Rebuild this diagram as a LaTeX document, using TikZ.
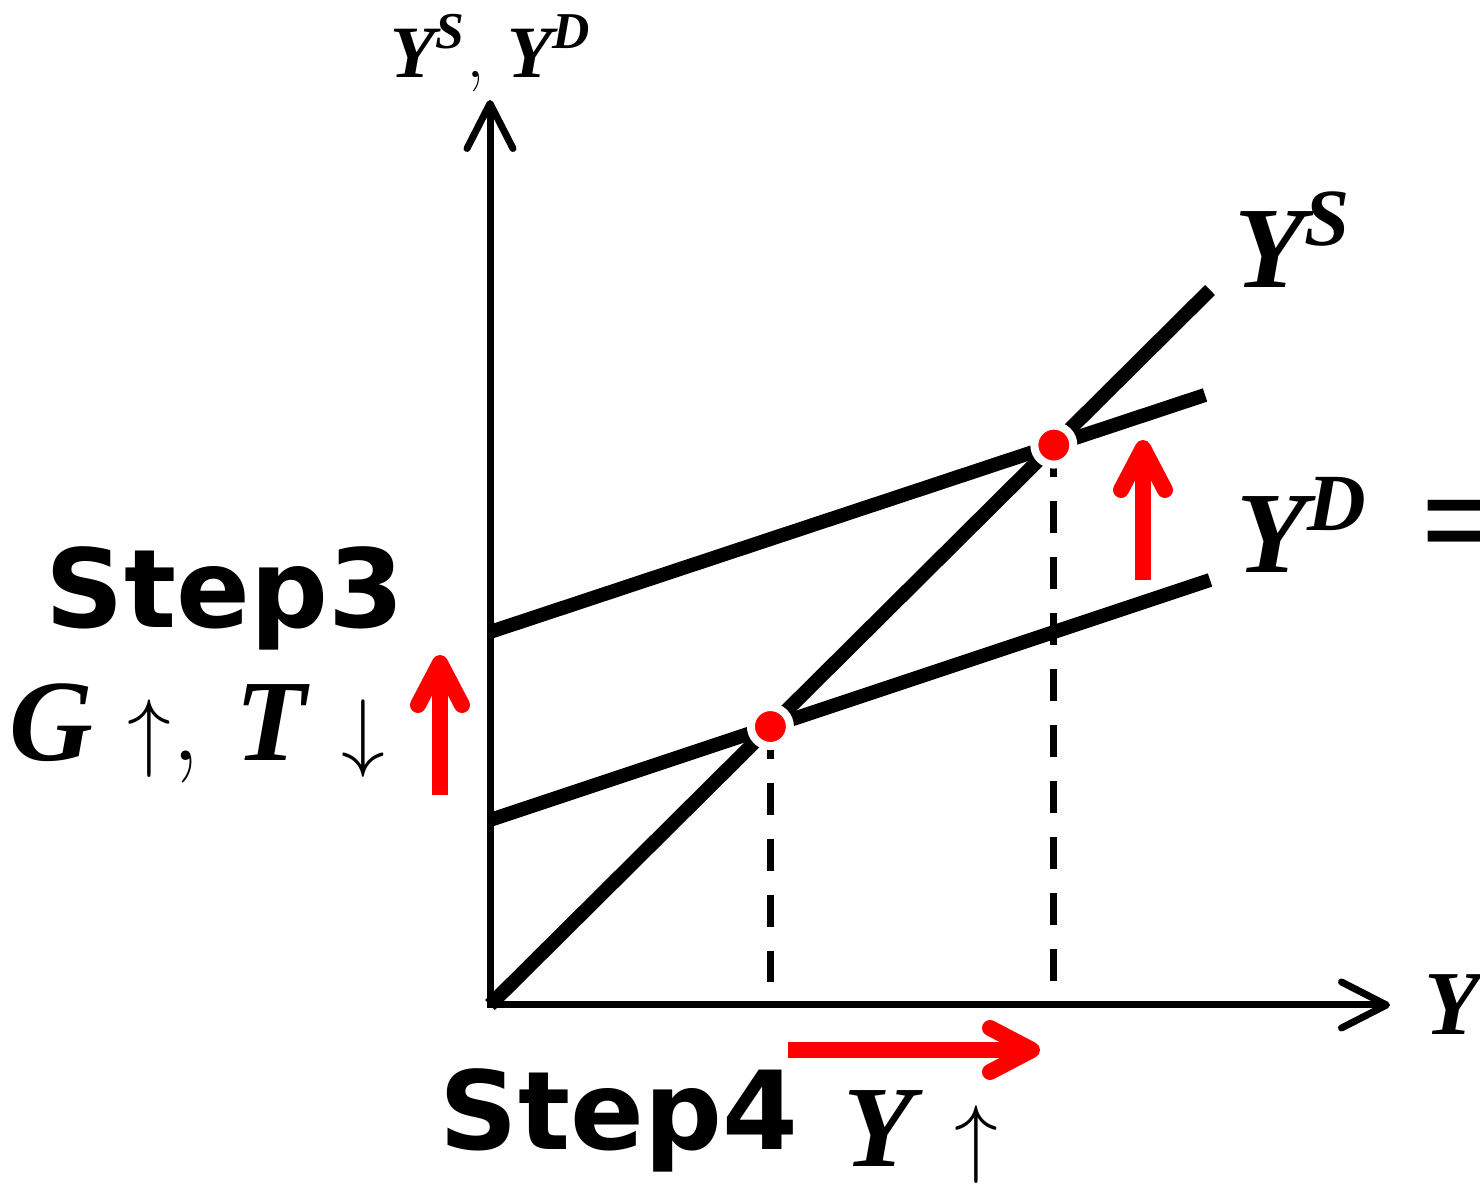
\documentclass[tikz,border=0pt]{standalone}
\usepackage{amsmath}
\usepackage{fontspec}
\setsansfont{DejaVu Sans}
\newfontfamily\eqfont{Liberation Serif}
\newcommand{\mv}[1]{{\eqfont\bfseries\itshape #1}}
\usepackage{xcolor}
\usetikzlibrary{arrows.meta,positioning,calc}
\definecolor{shiftred}{RGB}{255,0,0}

\begin{document}
\begin{tikzpicture}[
    axisline/.style={<->, >={Straight Barb[length=4.5mm,width=4.6mm,round]}, line width=0.07cm},
    schedule/.style={line width=0.14cm},
    dropline/.style={line width=0.07cm, dash pattern=on 0.32cm off 0.24cm, shorten >=0.23cm},
    redarrow/.style={-{Straight Barb[length=4.2mm,width=4.4mm,round]}, line width=0.16cm, draw=shiftred},
    eqdot/.style={circle, fill=shiftred, draw=white, line width=0.08cm, minimum size=0.39cm, inner sep=0pt},
    steplabel/.style={font=\sffamily\bfseries\fontsize{31}{36}\selectfont, inner sep=0pt},
    biglabel/.style={font=\fontsize{33}{38}\selectfont, inner sep=0pt},
    smalllabel/.style={font=\fontsize{21}{24}\selectfont, inner sep=0pt}
]
\useasboundingbox (0,0) rectangle (14.80,11.89);
\coordinate (origin) at (4.90,1.84);
\coordinate (ytip) at (4.90,10.89);
\coordinate (xtip) at (13.90,1.84);
\coordinate (ysend) at (12.10,8.99);
\coordinate (ydstart) at (4.90,3.69);
\coordinate (ydend) at (12.10,6.09);
\coordinate (ydnewstart) at (4.90,5.57);
\coordinate (ydnewend) at (12.05,7.94);
\coordinate (eqold) at (intersection of origin--ysend and ydstart--ydend);
\coordinate (eqnew) at (intersection of origin--ysend and ydnewstart--ydnewend);
\coordinate (gbase) at (4.40,3.94);
\coordinate (gtip) at (4.40,5.34);
\coordinate (ydbase) at (11.43,6.09);
\coordinate (ydtip) at (11.43,7.49);
\coordinate (outbase) at (7.88,1.39);
\coordinate (outtip) at (10.40,1.39);

\draw[axisline] (ytip) -- (origin) -- (xtip);
\draw[schedule] (origin) -- (ysend);
\draw[schedule] (ydstart) -- (ydend);
\draw[schedule] (ydnewstart) -- (ydnewend);
\draw[dropline] (eqold) -- (eqold |- origin);
\draw[dropline] (eqnew) -- (eqnew |- origin);
\node[eqdot] (dotold) at (eqold) {};
\node[eqdot] (dotnew) at (eqnew) {};

\draw[redarrow] (gbase) -- (gtip);
\draw[redarrow] (ydbase) -- (ydtip);
\draw[redarrow] (outbase) -- (outtip);

\node[smalllabel] (axislabel) at (4.91,11.36) {$\text{\mv{Y}}^{\text{\mv{S}}}$, $\text{\mv{Y}}^{\text{\mv{D}}}$};
\node[biglabel] (yslabel) at (12.93,9.49) {$\text{\mv{Y}}^{\text{\mv{S}}}$};
\node[biglabel, anchor=west] (ydlabel) at (12.36,6.64) {$\text{\mv{Y}}^{\text{\mv{D}}}$\hspace{0.45em}{\eqfont\bfseries\fontsize{44}{48}\selectfont =}};
\node[biglabel, font=\fontsize{26}{30}\selectfont, anchor=west] (xlabel) at (14.24,1.84) {\mv{Y}};
\node[steplabel] (step3) at (2.25,5.91) {Step3};
\node[biglabel] (policy) at (1.97,4.56) {\mv{G}\hspace{0.3em}$\uparrow$, \mv{T}\hspace{0.3em}$\downarrow$};
\node[steplabel] (step4) at (6.19,0.69) {Step4};
\node[biglabel] (output) at (9.21,0.52) {\mv{Y}\hspace{0.35em}$\uparrow$};
\end{tikzpicture}
\end{document}
